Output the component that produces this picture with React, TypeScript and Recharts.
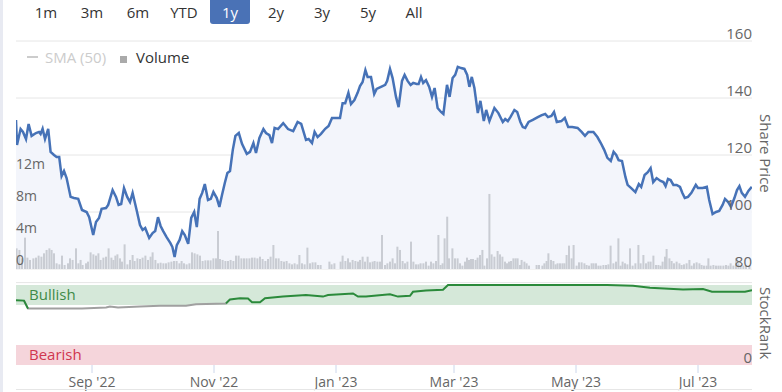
import React from "react";
import {
  ComposedChart,
  Area,
  Line,
  Bar,
  XAxis,
  YAxis,
  CartesianGrid,
  ReferenceArea,
  ReferenceLine,
} from "recharts";

// day offsets from 25 Jul 2022
const xTicks = [38, 99, 160, 219, 280, 341];
const xTickLabels = ["Sep '22", "Nov '22", "Jan '23", "Mar '23", "May '23", "Jul '23"];
const priceTicks = [80, 100, 120, 140, 160];
const volumeTicks = [0, 4, 8, 12];
const rangeButtons = ["1m", "3m", "6m", "YTD", "1y", "2y", "3y", "5y", "All"];
const selectedRange = "1y";

// [day, share price]
const pricePoints: [number, number][] = [
  [0, 132.3], [0.5, 123.5], [2.3, 129.1], [3.5, 128.1], [5, 125.6], [6.3, 130.9], [7.8, 126.7], [10, 127.7],
  [11.5, 128.1], [12.3, 127.4], [13.3, 129.2], [14.5, 125.6], [16.1, 129.2], [17.3, 121.1], [19, 120], [20.3, 119.3],
  [21.6, 119.3], [22.8, 112.6], [24, 114.4], [25.3, 111.9], [27.3, 105.3], [29, 104.9], [31.1, 104.6], [33, 100.7],
  [35.3, 100], [36.6, 98.2], [38.6, 91.9], [40, 96.5], [41.5, 97.9], [42.8, 101.1], [45, 101.4], [46.1, 102.5],
  [48.3, 107.7], [50, 105.3], [51.3, 102.5], [52.6, 102.8], [54, 108.4], [55.6, 105.3], [57, 103.5], [58.3, 106.7],
  [60.3, 100.7], [62, 95.4], [63.3, 93.7], [64.6, 94.4], [66.6, 90.9], [68.3, 92.6], [69.6, 93.3], [71, 98.2],
  [72.3, 95.1], [73.6, 93.3], [75.3, 91.2], [77.2, 89.1], [78.2, 87.7], [79.3, 84.2], [80.4, 88.4], [81.8, 90.2],
  [83.1, 93.3], [84.4, 91.9], [86.1, 88.8], [87.6, 97.9], [89.1, 100], [90.4, 94.7], [91.8, 104.6], [93.1, 106.7],
  [94.4, 109.8], [96, 104.2], [97.4, 104.6], [98.7, 107], [100.4, 104.9], [101.7, 101.8], [103, 106], [104.4, 110.2],
  [105.7, 113.7], [107, 114.4], [108.4, 121.8], [109.7, 126.7], [111.4, 127.7], [113, 123.9], [115.4, 120.4], [117, 121.1],
  [118.7, 124.2], [120, 120.7], [121.7, 126], [123.7, 129.1], [125, 127.7], [126.7, 127], [128, 124.2], [129.3, 129.5],
  [131, 129.1], [133.6, 131.2], [136, 129.1], [138.6, 128.4], [140.8, 131.6], [142.6, 130.9], [145, 125.3], [146.3, 125.6],
  [148, 124.2], [149.3, 128.1], [150.8, 126.3], [152.5, 127.4], [154.6, 129.2], [156.3, 130.2], [158, 133], [160.2, 133],
  [162, 133], [163.3, 138.2], [164.6, 138.2], [166.2, 141.8], [167.5, 137.9], [169.2, 139.3], [170.8, 141.8], [172, 144.2],
  [173.3, 145.6], [174.7, 149.8], [175.8, 147.4], [177.5, 147.4], [179.1, 141.4], [180.3, 143.2], [182.5, 143.9], [184.6, 144.6],
  [185.6, 146], [187, 150.2], [188.3, 147], [190, 140.4], [191.3, 136.8], [193, 146], [194.3, 148.1], [195.8, 146],
  [197.3, 144.6], [198.6, 145.3], [200.3, 144.9], [201.3, 144.9], [202.5, 147.4], [203.6, 145.3], [205, 146.3], [206.6, 143.9],
  [208, 140.4], [209.3, 143.5], [210.8, 136.5], [212.5, 135.1], [213.7, 134.4], [215.5, 144.6], [216.8, 140.4], [218.3, 147],
  [219.6, 148.1], [220.9, 150.9], [222.6, 150.5], [224.2, 150.2], [225.6, 148.1], [226.7, 143.9], [227.9, 147.4], [229.2, 143.5],
  [230.9, 134.7], [232.2, 139], [233.9, 131.9], [235.1, 135.8], [236.7, 131.9], [239.2, 136.5], [241.2, 134.7], [243.4, 131.6],
  [244.6, 132.6], [245.9, 131.9], [247.2, 133.3], [249.2, 135.8], [250.6, 135.1], [252.2, 131.6], [253.4, 129.8], [254.6, 129.5],
  [256.3, 131.6], [258.4, 132.3], [260.9, 133.3], [262.9, 134], [264.6, 134.4], [266, 133.3], [267.7, 133.7], [269, 135.1],
  [270.4, 131.6], [272.7, 131.9], [274.4, 133], [276.1, 129.8], [278.1, 129.8], [280.8, 129.5], [282.8, 128.1], [284.5, 126.7],
  [286.2, 128.1], [288.7, 128.1], [290.7, 126.3], [292.4, 124.2], [294.1, 121.8], [295.7, 119], [297.4, 117.9], [298.8, 121.1],
  [300.1, 120], [301.3, 118.2], [303, 117.9], [304.7, 112.3], [305.8, 109.5], [307.6, 108.4], [309.7, 107], [311.4, 109.8],
  [312.6, 108.8], [314.3, 113], [315.9, 114], [317.3, 115.4], [318.6, 110.5], [320.3, 111.9], [322.3, 110.9], [323.7, 110.5],
  [324.8, 109.1], [326, 111.6], [327.3, 111.2], [328.7, 109.5], [330.3, 109.5], [332, 108.8], [333.2, 106.7], [334.4, 104.9],
  [336, 105.3], [337.7, 106.7], [339.9, 109.5], [341, 108.4], [343.3, 108.4], [345.4, 108.8], [346.6, 104.2], [348.3, 99.3],
  [350, 100], [351.6, 100.4], [353.3, 102.5], [354.5, 104.6], [356.1, 103.5], [357.5, 101.8], [359.2, 104.9], [360.5, 107.7],
  [361.7, 109.1], [362.9, 106.7], [364.5, 105.3], [366.2, 107.4], [367.9, 108.8],
];

// [day, volume in millions]
const volumePoints: [number, number][] = [
  [0.3, 2.58], [1.7, 2.38], [3, 1.33], [4.5, 3.92], [5.7, 1.42], [7, 1.13], [8.7, 1.33], [10, 1.42], [11.3, 1.67],
  [12.7, 1.54], [14, 1.96], [15.3, 2.38], [16.7, 2.58], [17.8, 2.38], [19, 1.96], [20.3, 0.71], [21.7, 0.58], [23, 1.67],
  [24.3, 0.5], [26, 0.71], [27, 1.33], [28.3, 1.13], [30, 2.58], [31.2, 0.71], [32.3, 1.13], [33.3, 0.5], [35, 0.71],
  [36, 0.92], [37.3, 2.08], [38.7, 1.83], [40, 1.67], [41.2, 1.96], [42.3, 1.13], [43.7, 1.42], [45, 1.54], [46.3, 2.58],
  [47.7, 1.42], [48.7, 1.13], [49.7, 1.67], [50.7, 1.83], [52, 1.33], [53, 0.92], [54.3, 3.08], [55.7, 0.58], [57, 1.13],
  [58.3, 1.75], [59.3, 1], [60.7, 1.33], [62, 1.25], [63.3, 1.42], [64.7, 1.67], [66, 1.13], [67.3, 1.54], [68.3, 2.08],
  [69.7, 1.13], [71, 0.71], [72.3, 0.79], [73.7, 0.71], [75, 0.71], [76.3, 0.83], [77.7, 0.92], [79, 1], [80.3, 1],
  [81.7, 0.71], [82.8, 1], [84, 0.71], [85.3, 0.58], [86.7, 0.71], [88, 2.08], [89.3, 1.96], [90.7, 1.83], [92, 1.67],
  [93.3, 1], [94.7, 1.08], [96, 1.08], [97.3, 1.08], [98.7, 1.33], [100, 1.33], [101, 4.75], [102, 1.25], [103.3, 1.13],
  [104.7, 1], [106, 1], [107.3, 1.13], [108.7, 1], [110, 1.67], [111.3, 1.67], [112.7, 1.33], [114, 1.33], [115.3, 1.33],
  [116.7, 1.33], [118, 1.42], [119.3, 1.42], [120.7, 1.33], [122, 1.54], [123.3, 1.25], [124.7, 1], [126, 1.25], [127.3, 1.54],
  [128.7, 3], [130, 1.33], [131.3, 1.33], [132.7, 1], [134, 0.92], [135.3, 1], [136.7, 0.71], [138, 0.58], [139.3, 0.71],
  [140.7, 0.58], [141.7, 1.75], [143, 0.71], [144.3, 0.58], [145.7, 2.67], [147, 0.71], [148.3, 0.83], [149.7, 0.83], [151, 0.5],
  [152.3, 0.5], [156.7, 0.92], [157.8, 0.58], [159.2, 0.71], [162.3, 0.92], [163.3, 1.67], [164.7, 1], [166, 1.33], [167, 0.83],
  [168.3, 1.13], [169.7, 1], [171, 0.92], [172, 1.13], [173.3, 1.54], [174.5, 0.92], [175.8, 1.54], [177, 0.83], [178.3, 0.92],
  [179.3, 1], [180.7, 0.92], [182, 0.92], [183, 4.25], [184.5, 0.5], [185.7, 0.71], [187, 0.92], [188.3, 1.33], [189.5, 0.71],
  [190.7, 2.79], [192, 2.38], [193.3, 1], [194.5, 0.71], [195.7, 0.92], [197.5, 3.42], [198.7, 0.92], [200, 0.58], [201.2, 0.58],
  [202.3, 0.71], [203.7, 0.71], [205, 0.92], [206.3, 0.42], [207.5, 0.92], [208.7, 0.71], [210, 1], [211.2, 4.25], [212.3, 0.5],
  [213.3, 0.71], [214.3, 3.83], [215.6, 6.54], [216.5, 1.33], [218.2, 2.58], [219.5, 1.33], [220.8, 1.33], [222, 0.71], [223.2, 0.42],
  [224.5, 0.92], [225.5, 1.42], [226.5, 1.13], [227.5, 1.25], [228.5, 1.25], [229.8, 1.13], [230.8, 1.42], [232, 1.75], [233.2, 2.38],
  [234.2, 0.42], [235.5, 1.33], [236.7, 9.38], [237.8, 1.83], [239.2, 1.54], [240.8, 2.25], [242, 1.83], [243.2, 1.54], [244.5, 0.92],
  [245.5, 0.71], [246.5, 0.92], [247.5, 1], [248.7, 1.33], [249.8, 1.33], [250.8, 1.33], [252, 0.5], [252.8, 1.13], [254.2, 0.92],
  [255.3, 0.71], [256.5, 0.42], [260.3, 0.5], [261.5, 0.5], [263.2, 0.42], [264.2, 0.71], [265.3, 1], [266.2, 1.96], [267.5, 1.13],
  [268.7, 1], [269.8, 0.58], [270.8, 0.71], [272, 0.71], [273.2, 0.71], [274.2, 0.71], [275.3, 1.75], [276.5, 2.92], [277.8, 1.33],
  [278.8, 3], [280.3, 0.42], [281.5, 0.83], [282.8, 0.83], [284.2, 0.71], [285.3, 0.5], [286.5, 0.42], [287.8, 0.71], [288.8, 0.71],
  [290, 0.71], [291.2, 0.42], [292.3, 0.42], [293.7, 0.5], [295, 0.5], [296.2, 0.58], [297.3, 2.92], [298.7, 0.71], [300, 0.92],
  [301.2, 3.83], [302.3, 0.42], [303.3, 0.92], [304.5, 0.71], [305.7, 0.58], [307, 2.58], [308.3, 0.42], [309.7, 0.71], [311.2, 3],
  [312.3, 0.71], [313.7, 1.75], [315, 0.71], [316.2, 0.92], [317.3, 0.92], [318.7, 1.67], [320, 0.5], [321.2, 0.5], [322.3, 0.42],
  [323.3, 0.92], [324.5, 1.54], [325.3, 2.5], [326.7, 1.33], [327.8, 1], [329, 0.71], [330.3, 0.92], [331.7, 0.71], [332.8, 0.5],
  [334, 0.58], [335.3, 0.71], [336.7, 1.13], [337.8, 0.42], [339, 0.71], [340.3, 0.83], [341.7, 0.71], [342.8, 0.5], [344, 0.42],
  [345.3, 0.42], [346.2, 1.33], [347.3, 0.42], [348.7, 0.5], [350, 0.42], [351.2, 0.42], [352.3, 0.42], [353.7, 0.42], [355, 0.5],
  [356.2, 0.42], [357.3, 0.71], [358.7, 0.42], [360, 1.33], [361.2, 0.71], [362.3, 0.42], [363.7, 0.42], [365, 0.42], [366.7, 0.42],
];

// [day, StockRank]
const rankPoints: [number, number][] = [
  [0, 81], [4, 80.5], [6, 70.5], [17, 70.5], [33, 70.5], [45, 72], [47, 73], [51, 72], [62, 73], [72, 74], [85, 74],
  [90, 76], [105, 77], [107, 82], [112, 83.5], [116, 83], [118, 78.5], [122, 78.5], [124.5, 83.5], [133.5, 85.5],
  [145, 87.5], [153.5, 85.5], [156, 87.5], [168.5, 89.5], [171, 85.5], [175, 85.5], [187, 88.5], [191, 85.5],
  [197, 86.5], [198.5, 91.5], [205, 93], [213.5, 94], [216, 100], [242, 100], [275, 100], [295.5, 100], [308.5, 99],
  [317, 96.5], [333.5, 94.5], [343.5, 95], [348, 91.5], [358.5, 91.5], [364.5, 91.5], [368, 93.5],
];
const RANK_SPLIT = 78;

const mainData = [
  ...pricePoints.map(([day, price]) => ({ day, price })),
  ...volumePoints.map(([day, volume]) => ({ day, volume })),
].sort((a, b) => a.day - b.day);

const rankData = rankPoints.map(([day, rank], i) => {
  const near = [rankPoints[i - 1]?.[1], rank, rankPoints[i + 1]?.[1]].filter((v) => v !== undefined) as number[];
  return {
    day,
    bull: near.some((v) => v >= RANK_SPLIT) ? rank : null,
    bear: near.some((v) => v < RANK_SPLIT) ? rank : null,
  };
});

const DOMAIN: [number, number] = [0, 368];
const LABEL = "#666666";

const RightTick = (props: any) => (
  <text x={props.x} y={props.y - 8} textAnchor="end" dominantBaseline="central" fill={LABEL} fontSize={15}>
    {props.payload.value}
  </text>
);

const VolumeTick = (props: any) => (
  <text x={props.x} y={props.y - 10} textAnchor="start" dominantBaseline="central" fill={LABEL} fontSize={14}>
    {props.payload.value === 0 ? "0" : `${props.payload.value}m`}
  </text>
);

// thin volume column centred on its date
const VolumeBar = (props: any) => {
  const { x, y, width, height } = props;
  if (!height || height <= 0) return null;
  return <rect x={x + width / 2 - 1} y={y} width={2} height={height} fill="#c9ccd3" />;
};

export default function App() {
  return (
    <div
      style={{
        position: "absolute",
        left: 0,
        top: 0,
        width: 782,
        height: 392,
        background: "#fff",
        fontFamily: "'Open Sans', sans-serif",
        overflow: "hidden",
      }}
    >
      <div style={{ position: "absolute", left: 0, top: 0, width: 3, height: 392, background: "#e8eaf2" }} />

      {/* range selector */}
      <div style={{ position: "absolute", left: 26, top: 0, display: "flex", gap: 6 }}>
        {rangeButtons.map((b) => (
          <div
            key={b}
            style={{
              width: 40,
              height: 24,
              lineHeight: "24px",
              textAlign: "center",
              fontSize: 15,
              color: b === selectedRange ? "#fff" : "#333",
              background: b === selectedRange ? "#4a72b6" : "transparent",
              borderRadius: "0 0 3px 3px",
            }}
          >
            {b}
          </div>
        ))}
      </div>

      {/* legend */}
      <div style={{ position: "absolute", left: 27, top: 47, height: 20, display: "flex", alignItems: "center", fontSize: 15 }}>
        <span style={{ width: 11, height: 2, background: "#cccccc", marginRight: 7 }} />
        <span style={{ color: "#cccccc", marginRight: 14 }}>SMA (50)</span>
        <span style={{ width: 7, height: 7, background: "#aaaaaa", marginRight: 9, marginTop: 5 }} />
        <span style={{ color: "#333" }}>Volume</span>
      </div>

      <div style={{ position: "absolute", left: 0, top: 0 }}>
        <ComposedChart width={782} height={283} data={mainData} margin={{ top: 41, right: 30, bottom: 14, left: 16 }}>
          <CartesianGrid yAxisId="price" vertical={false} stroke="#e6e6e6" />
          <XAxis dataKey="day" type="number" domain={DOMAIN} hide allowDataOverflow />
          <YAxis
            yAxisId="price"
            orientation="right"
            mirror
            domain={[80, 160]}
            ticks={priceTicks}
            axisLine={false}
            tickLine={false}
            tickSize={0}
            tickMargin={0}
            tick={<RightTick />}
          />
          <YAxis
            yAxisId="vol"
            orientation="left"
            mirror
            domain={[0, 28.5]}
            ticks={volumeTicks}
            axisLine={false}
            tickLine={false}
            tickSize={0}
            tickMargin={0}
            tick={<VolumeTick />}
          />
          <Area
            yAxisId="price"
            dataKey="price"
            type="linear"
            stroke="none"
            fill="#f3f5fb"
            fillOpacity={1}
            connectNulls
            isAnimationActive={false}
          />
          <Bar yAxisId="vol" dataKey="volume" fill="#c9ccd3" shape={<VolumeBar />} isAnimationActive={false} />
          <Line
            yAxisId="price"
            dataKey="price"
            type="linear"
            stroke="#4672b7"
            strokeWidth={2.5}
            dot={false}
            connectNulls
            isAnimationActive={false}
          />
        </ComposedChart>
      </div>

      <div style={{ position: "absolute", left: 0, top: 270 }}>
        <ComposedChart width={782} height={122} data={rankData} margin={{ top: 12.6, right: 30, bottom: 0, left: 16 }}>
          <XAxis
            dataKey="day"
            type="number"
            domain={DOMAIN}
            ticks={xTicks}
            tickFormatter={(v: number) => xTickLabels[xTicks.indexOf(v)]}
            height={27}
            axisLine={false}
            tickLine={{ stroke: "#ccd6eb" }}
            tickSize={8}
            tickMargin={4}
            tick={{ fill: LABEL, fontSize: 14 }}
            allowDataOverflow
          />
          <YAxis
            orientation="right"
            mirror
            domain={[0, 103]}
            ticks={[0]}
            axisLine={false}
            tickLine={false}
            tickSize={0}
            tickMargin={0}
            tick={<RightTick />}
            allowDataOverflow
          />
          <ReferenceLine y={103} stroke="#e6e6e6" />
          <ReferenceArea
            y1={75}
            y2={100}
            fill="#d5e8d9"
            fillOpacity={1}
            label={{ value: "Bullish", position: "insideLeft", offset: 13, fill: "#3f8a48", fontSize: 15 }}
          />
          <ReferenceArea
            y1={0}
            y2={25}
            fill="#f5d5db"
            fillOpacity={1}
            label={{ value: "Bearish", position: "insideLeft", offset: 13, fill: "#d0364f", fontSize: 15 }}
          />
          <Line dataKey="bear" stroke="#a0a0a0" strokeWidth={2} dot={false} isAnimationActive={false} />
          <Line dataKey="bull" stroke="#2b8a3b" strokeWidth={2} dot={false} isAnimationActive={false} />
        </ComposedChart>
      </div>

      <div
        style={{
          position: "absolute",
          left: 758,
          top: 114,
          writingMode: "vertical-rl",
          fontSize: 15,
          lineHeight: "16px",
          color: LABEL,
        }}
      >
        Share Price
      </div>
      <div
        style={{
          position: "absolute",
          left: 758,
          top: 287,
          writingMode: "vertical-rl",
          fontSize: 15,
          lineHeight: "16px",
          color: LABEL,
        }}
      >
        StockRank
      </div>

      <div style={{ position: "absolute", left: 16, top: 389, width: 736, height: 1, background: "#e6e6e6" }} />
    </div>
  );
}
